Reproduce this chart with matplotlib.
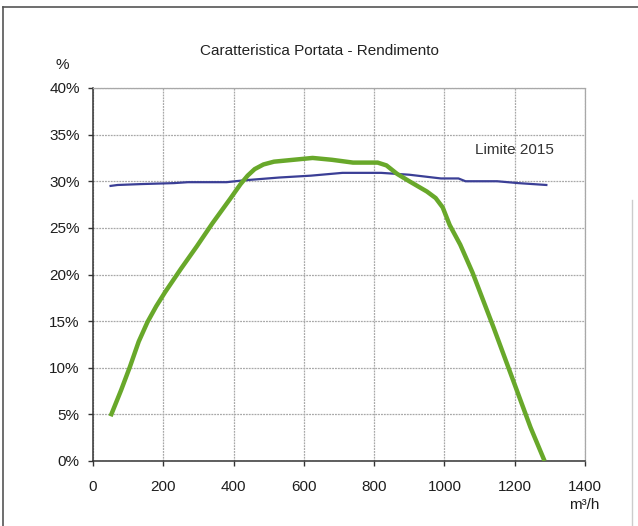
import matplotlib
matplotlib.use("Agg")
import matplotlib.pyplot as plt
from matplotlib.lines import Line2D

plt.rcParams['font.family'] = ['Liberation Sans', 'DejaVu Sans']

# Fan efficiency curve (flow in m3/h, efficiency in %)
flow_eff = [50, 80, 105, 130, 155, 180, 205, 250, 295, 340, 390, 420, 440, 460, 485, 515,
            570, 625, 680, 740, 810, 835, 865, 900, 950, 975, 995, 1015, 1045, 1080,
            1140, 1195, 1245, 1285]
efficiency = [4.8, 7.6, 10.1, 12.8, 14.9, 16.6, 18.1, 20.6, 23.0, 25.5, 28.1, 29.7, 30.6, 31.3,
              31.8, 32.1, 32.3, 32.5, 32.3, 32.0, 32.0, 31.7, 30.8, 30.0, 28.9, 28.2, 27.2,
              25.3, 23.2, 20.2, 14.3, 8.7, 3.6, 0.0]

# 2015 minimum efficiency limit
flow_lim = [50, 70, 140, 230, 270, 380, 430, 530, 620, 710, 820, 900, 990, 1040,
            1060, 1150, 1210, 1290]
limit_2015 = [29.5, 29.6, 29.7, 29.8, 29.9, 29.9, 30.1, 30.4, 30.6, 30.9, 30.9, 30.7, 30.3, 30.3,
              30.0, 30.0, 29.8, 29.6]

x_ticks = [0, 200, 400, 600, 800, 1000, 1200, 1400]
y_ticks = [0, 5, 10, 15, 20, 25, 30, 35, 40]

W, H = 638, 526
fig = plt.figure(figsize=(W / 100, H / 100), dpi=100)
ax = fig.add_axes([93 / W, 1 - 461 / H, (585 - 93) / W, (461 - 88) / H])

ax.plot(flow_lim, limit_2015, color='#3b3f96', lw=1.6, zorder=3)
ax.plot(flow_eff, efficiency, color='#68a82a', lw=3.2, zorder=4,
        solid_capstyle='butt', solid_joinstyle='round')

ax.set_xlim(0, 1400)
ax.set_ylim(0, 40)
ax.set_xticks(x_ticks)
ax.set_yticks(y_ticks)
ax.set_xticklabels([str(v) for v in x_ticks])
ax.set_yticklabels([f"{v}%" for v in y_ticks])

ax.grid(True, color='#a8a8a8', lw=0.9, ls=(0, (1.5, 0.8)))
ax.set_axisbelow(True)

for side in ('top', 'right'):
    ax.spines[side].set_color('#a8a8a8')
    ax.spines[side].set_linestyle((0, (1.5, 0.8)))
    ax.spines[side].set_linewidth(0.9)
for side in ('left', 'bottom'):
    ax.spines[side].set_color('#333333')
    ax.spines[side].set_linewidth(1.1)

ax.tick_params(axis='both', direction='out', length=3.5, width=1.0, color='#333333',
               labelsize=11, labelcolor='#1e1e1e')
ax.tick_params(axis='x', pad=10)
ax.tick_params(axis='y', pad=6)

fig.text(319 / W, 1 - 51 / H, 'Caratteristica Portata - Rendimento', ha='center', va='center',
         fontsize=11, color='#222222')
fig.text(62 / W, 1 - 65 / H, '%', ha='center', va='center', fontsize=11, color='#1e1e1e')
fig.text(584 / W, 1 - 505 / H, 'm³/h', ha='center', va='center', fontsize=11, color='#1e1e1e')
ax.text(1200, 33.4, 'Limite 2015', ha='center', va='center', fontsize=11, color='#333333')

# outer frame
fig.add_artist(Line2D([3 / W, 3 / W], [0, 1 - 7 / H], transform=fig.transFigure,
                      color='#555555', lw=1.2))
fig.add_artist(Line2D([3 / W, 1], [1 - 7 / H, 1 - 7 / H], transform=fig.transFigure,
                      color='#555555', lw=1.2))
fig.add_artist(Line2D([632 / W, 632 / W], [0, 1 - 200 / H], transform=fig.transFigure,
                      color='#cccccc', lw=1.0))

fig.savefig('out.png', dpi=100)
